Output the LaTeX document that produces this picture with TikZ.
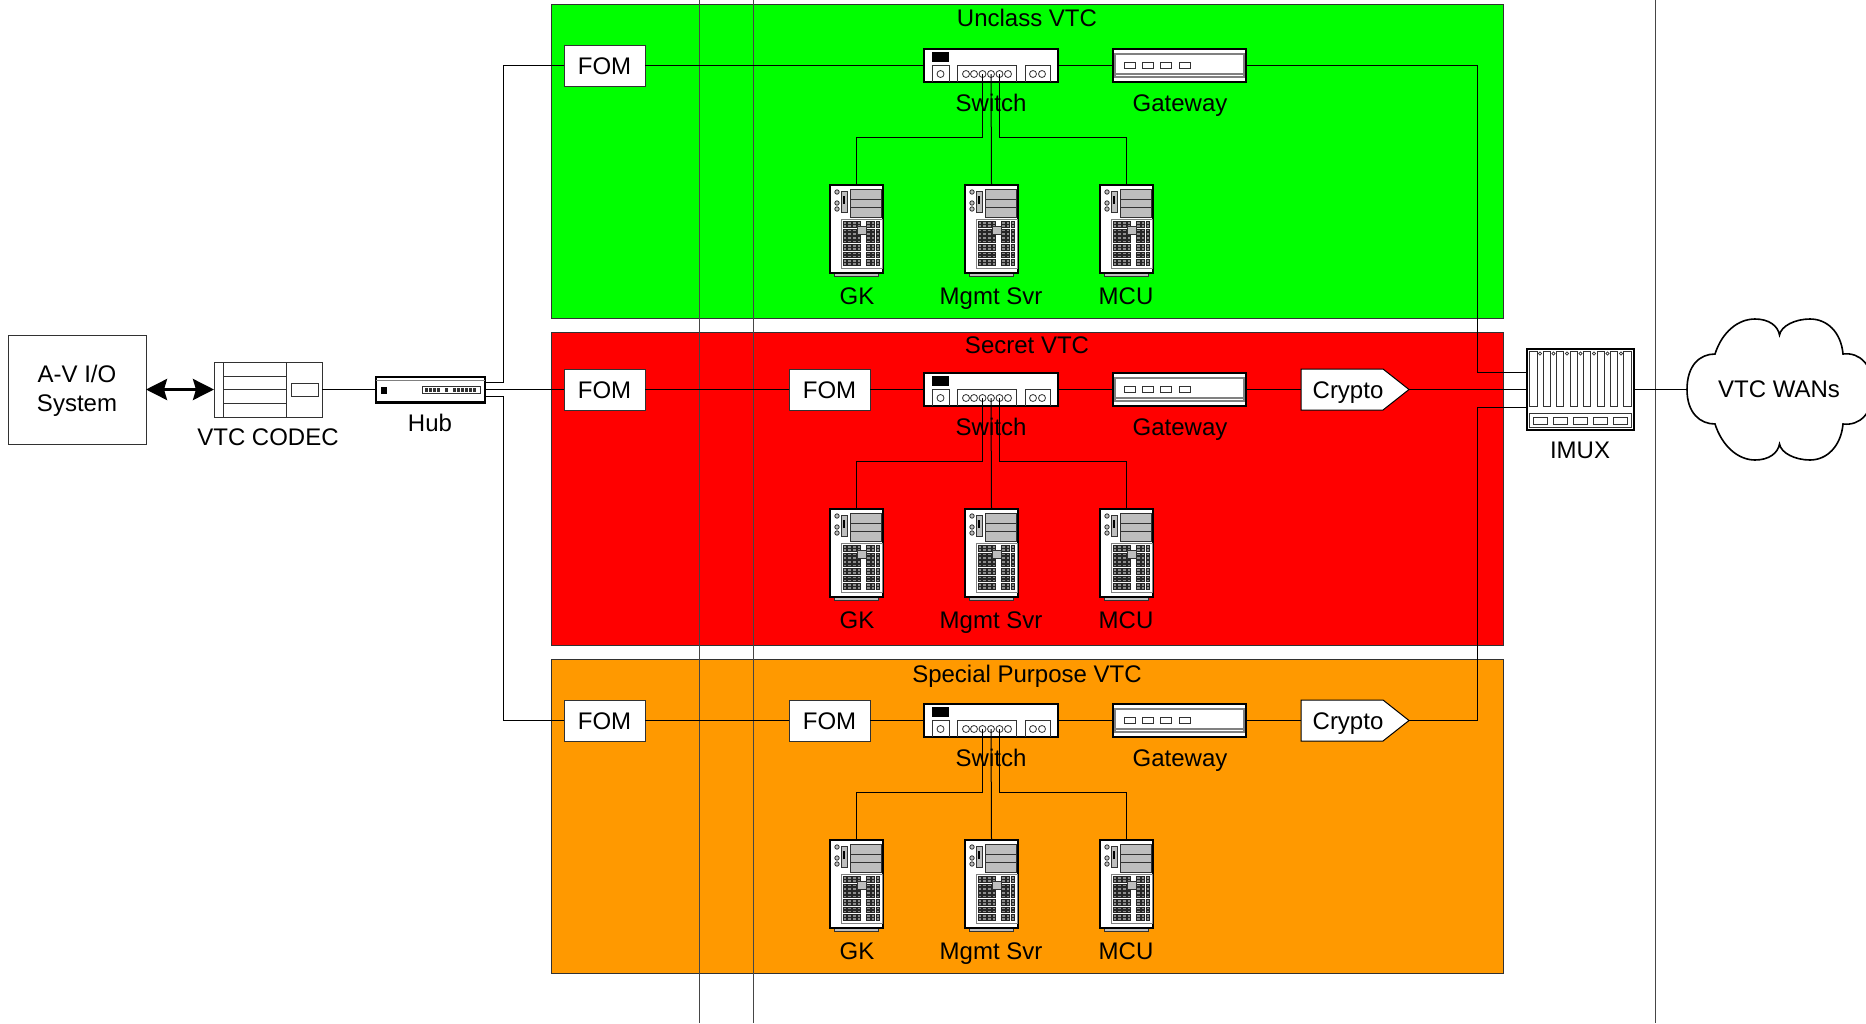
\documentclass[tikz,border=0pt]{standalone}
\usepackage{fontspec}
\setmainfont{Liberation Sans}
\usetikzlibrary{arrows.meta}
\definecolor{panelgreen}{RGB}{0,255,0}
\definecolor{panelred}{RGB}{255,0,0}
\definecolor{panelorange}{RGB}{255,153,0}
\definecolor{thin}{RGB}{50,50,50}
\definecolor{guidegray}{RGB}{70,70,70}
\definecolor{midgray}{RGB}{128,128,128}
\definecolor{baygray}{RGB}{190,190,190}
\tikzset{
 lbl/.style={font=\fontsize{24}{27}\selectfont,align=center,inner sep=0pt,text=black,text height=19.5pt,text depth=2.5pt},
 panel/.style={draw=thin,line width=1pt,anchor=north west,inner sep=0pt,outer sep=0pt},
 wire/.style={draw=black,line width=1pt},
 guide/.style={draw=guidegray,line width=1pt},
 bx/.style={draw=thin,fill=white,line width=1pt,inner sep=0pt,outer sep=0pt,font=\fontsize{24}{29}\selectfont},
 fom/.style={bx,minimum width=81pt,minimum height=41pt,text height=19.5pt,text depth=2.5pt},
 body/.style={draw=black,fill=white,line width=2.4pt,inner sep=0pt,outer sep=0pt,anchor=north west},
 fine/.style={draw=thin,line width=.8pt},
 port/.style={circle,draw=thin,line width=.8pt,fill=white,inner sep=0pt,outer sep=0pt,minimum size=7pt},
 switchdev/.pic={
  \node[body,minimum width=133.6pt,minimum height=32.6pt] (-body) at (1.2,1.2) {};
  \fill[black] (9,4) rectangle (26,14);
  \draw[fine] (9,34) -- (9,17) -- (26,17) -- (26,34);
  \draw[fine] (34,34) -- (34,17) -- (93,17) -- (93,34);
  \draw[fine] (102,34) -- (102,17) -- (127,17) -- (127,34);
  \node[port] (-p0) at (17.5,26) {};
  \node[port] (-p1) at (43,26) {};
  \node[port] (-p2) at (51,26) {};
  \node[port] (-p3) at (59.5,26) {};
  \node[port] (-p4) at (68,26) {};
  \node[port] (-p5) at (76.5,26) {};
  \node[port] (-p6) at (85,26) {};
  \node[port] (-p7) at (110,26) {};
  \node[port] (-p8) at (119,26) {};
 },
 gatewaydev/.pic={
  \node[body,minimum width=132.6pt,minimum height=32.6pt] (-body) at (1.2,1.2) {};
  \draw[midgray,line width=1.2pt] (3,6) rectangle (132,29);
  \draw[midgray,line width=1.2pt] (3,26) -- (132,26);
  \foreach \i in {0,1,2,3} \draw[fine,fill=white] ({12+18.3*\i},14) rectangle ++(11,6);
 },
 serverdev/.pic={
  \draw[fine,fill=baygray] (5,89.5) -- (5,92.5) -- (49,92.5) -- (49,89.5);
  \node[body,minimum width=52.6pt,minimum height=87.6pt] (-body) at (1.2,1.2) {};
  \foreach \yy in {8,19,25} \draw[fine,fill=baygray] (8,\yy) circle (2.2);
  \draw[fine,fill=baygray] (12,7) rectangle (18,28);
  \fill[black] (14,12) rectangle (16,20);
  \draw[fine,fill=baygray] (21,5) rectangle (52,33);
  \draw[fine] (21,15) -- (52,15) (21,23) -- (52,23);
  \draw[draw=midgray,line width=1pt,fill=white] (12,35) rectangle (53,84);
  \foreach \yy in {0,...,5} {
   \foreach \xx in {14,18.7,23.4,28.1,37.5,42.2,46.9}
    \draw[black!85,line width=.8pt,fill=black!45] (\xx,{37.5+\yy*7.6}) rectangle ++(3.6,2.6) ++(-3.6,.7) rectangle ++(3.6,2.6);
  }
  \draw[fine,fill=baygray] (28,42) rectangle (37,50);
 },
 hubdev/.pic={
  \node[body,minimum width=108.6pt,minimum height=25.6pt] (-body) at (1.2,1.2) {};
  \draw[midgray,line width=1pt] (1,4.5) -- (110,4.5);
  \fill[black] (6,11) rectangle (12,18);
  \draw[fine,fill=white] (47,11) rectangle (105,18);
  \foreach \xx in {50,54,58,62,70,78,82,86,90,94,98}
   \fill[black!80] (\xx,12.5) rectangle ++(3,4);
 },
 codecdev/.pic={
  \node[draw=thin,fill=white,line width=1pt,inner sep=0pt,outer sep=0pt,anchor=north west,minimum width=108pt,minimum height=55pt] (-body) at (0,0) {};
  \draw[fine] (9,0) -- (9,55) (72,0) -- (72,55);
  \draw[fine] (9,14) -- (72,14) (9,27.5) -- (72,27.5) (9,41) -- (72,41);
  \draw[fine] (77,21) rectangle (104,34);
 },
 imuxdev/.pic={
  \node[body,minimum width=106.6pt,minimum height=80.6pt] (-body) at (1.2,1.2) {};
  \foreach \i in {0,...,7} \draw[fine] ({3.8+13.42*\i},3.5) rectangle ++(7.2,54.5);
  \foreach \i in {0,...,6} \draw[fine,fill=white] ({14+13.5*\i},5.5) circle (1.6);
  \draw[fine] (3.5,65) rectangle (105,79);
  \foreach \i in {0,...,4} \draw[fine] ({7+20.2*\i},69) rectangle ++(14,7);
 },
 cryptodev/.pic={
  \node[inner sep=0pt,outer sep=0pt,anchor=north west,minimum width=108pt,minimum height=41pt] (-body) at (0,0) {};
  \draw[thin,fill=white,line width=1pt] (0,0) -- (82,0) -- (108,20.5) -- (82,41) -- (0,41) -- cycle;
  \node[lbl] (-text) at (47,20.5) {Crypto};
 },
}
\begin{document}
\begin{tikzpicture}[x=1pt,y=-1pt]
\useasboundingbox (0,0) rectangle (1866,1023);
\clip (0,0) rectangle (1866,1023);
\fill[white] (0,0) rectangle (1866,1023);
% panels
\node[panel,fill=panelgreen,minimum width=952pt,minimum height=313.5pt] (pgreen) at (551,4.5) {};
\node[panel,fill=panelred,minimum width=952pt,minimum height=313.5pt] (pred) at (551,332) {};
\node[panel,fill=panelorange,minimum width=952pt,minimum height=314pt] (porange) at (551,659) {};
\node[lbl] (tgreen) at (1027,18) {Unclass VTC};
\node[lbl] (tred) at (1027,345) {Secret VTC};
\node[lbl] (torange) at (1027,673.5) {Special Purpose VTC};
% vertical guides
\coordinate (g1t) at (699.5,0); \coordinate (g1b) at (699.5,1023);
\coordinate (g2t) at (753.5,0); \coordinate (g2b) at (753.5,1023);
\coordinate (g3t) at (1655.5,0); \coordinate (g3b) at (1655.5,1023);
\draw[guide] (g1t) -- (g1b);
\draw[guide] (g2t) -- (g2b);
\draw[guide] (g3t) -- (g3b);
% left side
\node[bx,minimum width=138pt,minimum height=109pt,align=center,anchor=north west] (av) at (8,335) {\rule{0pt}{19.5pt}A-V I/O\\System};
\pic (codec) at (214,362) {codecdev};
\node[lbl] (tcodec) at (268,437) {VTC CODEC};
\pic (hub) at (375,375.5) {hubdev};
\node[lbl] (thub) at (430,423) {Hub};
% IMUX
\pic (imux) at (1526,348) {imuxdev};
\node[lbl] (timux) at (1580,449.5) {IMUX};
% cloud
\coordinate (wanl) at (1687,389.5);
\draw[black,fill=white,line width=1.6pt]
 (wanl) .. controls (1687,365) and (1700,354) .. (1715,354)
 .. controls (1722,332) and (1738,319) .. (1755,319)
 .. controls (1769,319) and (1778,326) .. (1779.5,335)
 .. controls (1781,326) and (1795,319) .. (1810,319)
 .. controls (1827,319) and (1841,332) .. (1843,354)
 .. controls (1860,352) and (1873,365) .. (1873,389.5)
 .. controls (1873,413) and (1860,426) .. (1843,424)
 .. controls (1841,446) and (1827,460) .. (1810,460)
 .. controls (1795,460) and (1781,453) .. (1779.5,444)
 .. controls (1778,453) and (1769,460) .. (1755,460)
 .. controls (1738,460) and (1722,446) .. (1715,424)
 .. controls (1700,424) and (1687,413) .. (wanl) -- cycle;
\node[lbl] (wan) at (1779,389) {VTC WANs};
% rows
\foreach \r/\dy in {a/0,b/324,c/655} {
 \node[fom,anchor=north west] (foma\r) at (564,{45+\dy}) {FOM};
 \pic (sw\r) at (923,{48+\dy}) {switchdev};
 \pic (gw\r) at (1112,{48+\dy}) {gatewaydev};
 \pic (gk\r) at (829,{184+\dy}) {serverdev};
 \pic (mg\r) at (964,{184+\dy}) {serverdev};
 \pic (mc\r) at (1099,{184+\dy}) {serverdev};
 \node[lbl] (tsw\r) at (991,{102.5+\dy}) {Switch};
 \node[lbl] (tgw\r) at (1180,{102.5+\dy}) {Gateway};
 \node[lbl] (tgk\r) at (857,{296+\dy}) {GK};
 \node[lbl] (tmg\r) at (991,{296+\dy}) {Mgmt Svr};
 \node[lbl] (tmc\r) at (1126,{296+\dy}) {MCU};
 \coordinate (bus\r) at (0,{137+\dy});
 \draw[wire] (sw\r-p3.center) -- (sw\r-p3.center |- bus\r) -| (gk\r-body.north);
 \draw[wire] (sw\r-p4.center) -- (mg\r-body.north);
 \draw[wire] (sw\r-p5.center) -- (sw\r-p5.center |- bus\r) -| (mc\r-body.north);
 \draw[wire] (sw\r-body.east) -- (gw\r-body.west);
}
\foreach \r/\dy in {b/324,c/655} {
 \node[fom,anchor=north west] (fomb\r) at (789,{45+\dy}) {FOM};
 \pic (cr\r) at (1301,{45+\dy}) {cryptodev};
 \draw[wire] (foma\r.east) -- (fomb\r.west);
 \draw[wire] (fomb\r.east) -- (sw\r-body.west);
 \draw[wire] (gw\r-body.east) -- (cr\r-body.west);
}
\draw[wire] (fomaa.east) -- (swa-body.west);
% hub links
\coordinate (hubu) at (485,382);
\coordinate (hubd) at (485,396);
\coordinate (trunkl) at (503,0);
\coordinate (trunkr) at (1477,0);
\coordinate (imuxu) at (1527,372);
\coordinate (imuxd) at (1527,407);
\draw[wire] (codec-body.east) -- (hub-body.west);
\draw[wire] (hubu) -- (hubu -| trunkl) |- (fomaa.west);
\draw[wire] (hub-body.east) -- (fomab.west);
\draw[wire] (hubd) -- (hubd -| trunkl) |- (fomac.west);
\draw[wire] (gwa-body.east) -- (gwa-body.east -| trunkr) |- (imuxu);
\draw[wire] (crb-body.east) -- (imux-body.west);
\draw[wire] (crc-body.east) -- (crc-body.east -| trunkr) |- (imuxd);
\draw[wire] (imux-body.east) -- (wanl);
\draw[black,line width=3pt,{Stealth[length=21pt,width=21pt,inset=3pt]}-{Stealth[length=21pt,width=21pt,inset=3pt]}] (av.east) -- (codec-body.west);
\end{tikzpicture}
\end{document}
